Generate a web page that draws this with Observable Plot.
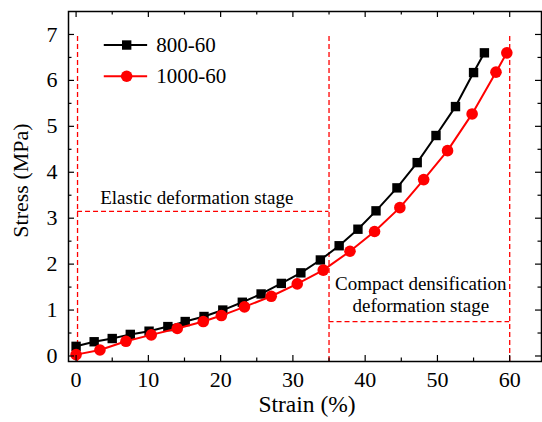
<!DOCTYPE html>
<html><head><meta charset="utf-8">
<script src="https://cdn.jsdelivr.net/npm/d3@7"></script>
<script src="https://cdn.jsdelivr.net/npm/@observablehq/plot@0.6"></script>
<style>
html,body{margin:0;padding:0;background:#fff;}
#chart{width:542px;height:422px;}
#chart svg, #chart svg text{font-family:"Liberation Serif","Times New Roman",serif !important;}
</style></head><body><div id="chart"></div>
<script>
// ---- data ----
const seriesNames = ["800-60", "1000-60"];
const strain800 = [0, 2.5, 5.0, 7.5, 10.1, 12.7, 15.1, 17.7, 20.3, 23.0, 25.6, 28.4, 31.1, 33.8, 36.4, 39.0, 41.5, 44.4, 47.2, 49.8, 52.5, 55.0, 56.5];
const stress800 = [0.21, 0.31, 0.38, 0.47, 0.54, 0.64, 0.75, 0.86, 1.00, 1.17, 1.35, 1.58, 1.81, 2.09, 2.40, 2.76, 3.16, 3.66, 4.21, 4.80, 5.43, 6.17, 6.60];
const strain1000 = [0, 3.3, 6.9, 10.4, 14.0, 17.6, 20.1, 23.3, 27.0, 30.6, 34.2, 37.9, 41.3, 44.8, 48.1, 51.4, 54.8, 58.1, 59.6];
const stress1000 = [0.03, 0.13, 0.32, 0.46, 0.60, 0.75, 0.88, 1.07, 1.30, 1.57, 1.87, 2.28, 2.71, 3.23, 3.84, 4.47, 5.27, 6.18, 6.60];
const xTicks = [0, 10, 20, 30, 40, 50, 60];
const xMinor = [5, 15, 25, 35, 45, 55];
const yTicks = [0, 1, 2, 3, 4, 5, 6, 7];
const yMinor = [0.5, 1.5, 2.5, 3.5, 4.5, 5.5, 6.5];
const xLabel = "Strain (%)";
const yLabel = "Stress (MPa)";
const stage1Label = ["Elastic deformation stage"];
const stage2Label = ["Compact densification", "deformation stage"];
// stage boundaries (strain %) and stress levels of the annotation boxes
const stageX = [0.2, 35, 60];
const stageTop = 7.0;
const stage1Y = 3.15;
const stage2Y = 0.75;

// ---- build tables ----
const s800 = strain800.map((x, i) => ({x, y: stress800[i], s: seriesNames[0]}));
const s1000 = strain1000.map((x, i) => ({x, y: stress1000[i], s: seriesNames[1]}));

const FONT = "Liberation Serif";
const XD = [-1.05, 64.4], YD = [-0.12, 7.5];
const RED = "#ff0000";
const dash = "5,3";
const MAJ = 6, MIN = 3.5;

function ticksBottomTop(vals, len) {
  return [
    Plot.ruleX(vals, {x: d => d, y1: YD[0], y2: YD[0], insetTop: -len, stroke: "black", strokeWidth: 1.2}),
    Plot.ruleX(vals, {x: d => d, y1: YD[1], y2: YD[1], insetBottom: -len, stroke: "black", strokeWidth: 1.2})
  ];
}
function ticksLeftRight(vals, len) {
  return [
    Plot.ruleY(vals, {y: d => d, x1: XD[0], x2: XD[0], insetRight: -len, stroke: "black", strokeWidth: 1.2}),
    Plot.ruleY(vals, {y: d => d, x1: XD[1], x2: XD[1], insetLeft: -len, stroke: "black", strokeWidth: 1.2})
  ];
}

const legendRows = seriesNames.map((s, i) => ({s, y: [6.77, 6.09][i]}));

const chart = Plot.plot({
  width: 542,
  height: 422,
  marginLeft: 68,
  marginRight: 1,
  marginTop: 11,
  marginBottom: 61,
  style: {fontFamily: FONT, background: "white", color: "black"},
  x: {domain: XD},
  y: {domain: YD},
  marks: [
    // annotation dashed boxes
    Plot.ruleX([stageX[0], stageX[1], stageX[2]], {x: d => d, y1: YD[0], y2: stageTop, stroke: RED, strokeWidth: 1.3, strokeDasharray: dash}),
    Plot.ruleY([stage1Y], {y: d => d, x1: stageX[0], x2: stageX[1], stroke: RED, strokeWidth: 1.3, strokeDasharray: dash}),
    Plot.ruleY([stage2Y], {y: d => d, x1: stageX[1], x2: stageX[2], stroke: RED, strokeWidth: 1.3, strokeDasharray: dash}),
    Plot.text(stage1Label, {x: (stageX[0] + stageX[1]) / 2 - 0.9, y: stage1Y + 0.3, text: d => d, fontSize: 19, fontFamily: FONT, fill: "black"}),
    Plot.text(stage2Label, {x: (stageX[1] + stageX[2]) / 2 + 0.2, y: (d, i) => [1.58, 1.10][i], text: d => d, fontSize: 19, fontFamily: FONT, fill: "black"}),
    // data
    Plot.line(s800, {x: "x", y: "y", stroke: "black", strokeWidth: 2}),
    Plot.dot(s800, {x: "x", y: "y", symbol: "square", r: 5.3, fill: "black", stroke: "none"}),
    Plot.line(s1000, {x: "x", y: "y", stroke: RED, strokeWidth: 2}),
    Plot.dot(s1000, {x: "x", y: "y", symbol: "circle", r: 5.8, fill: RED, stroke: "none"}),
    // legend
    Plot.ruleY(legendRows, {y: "y", x1: 3.9, x2: 9.9, stroke: (d, i) => ["black", RED][i], strokeWidth: 2}),
    Plot.dot(legendRows.slice(0, 1), {x: 7.0, y: "y", symbol: "square", r: 5.3, fill: "black", stroke: "none"}),
    Plot.dot(legendRows.slice(1), {x: 7.0, y: "y", symbol: "circle", r: 5.8, fill: RED, stroke: "none"}),
    Plot.text(legendRows, {x: 11.1, y: "y", text: "s", textAnchor: "start", fontSize: 21, fontFamily: FONT, fill: "black"}),
    // frame & ticks
    Plot.frame({stroke: "black", strokeWidth: 1.5}),
    ...ticksBottomTop(xTicks, MAJ),
    ...ticksBottomTop(xMinor, MIN),
    ...ticksLeftRight(yTicks, MAJ),
    ...ticksLeftRight(yMinor, MIN),
    Plot.axisX(xTicks, {anchor: "bottom", tickSize: 0, tickPadding: 10, fontSize: 22, fontFamily: FONT, label: null, tickFormat: d => String(d)}),
    Plot.axisY(yTicks, {anchor: "left", tickSize: 0, tickPadding: 11, fontSize: 22, fontFamily: FONT, label: null, tickFormat: d => String(d)}),
    Plot.text([xLabel], {frameAnchor: "bottom", dy: 43, dx: 2, text: d => d, fontSize: 23.5, fontFamily: FONT, textAnchor: "middle", lineAnchor: "middle", fill: "black"}),
    Plot.text([yLabel], {frameAnchor: "left", dx: -48, dy: -6, rotate: -90, text: d => d, fontSize: 22, fontFamily: FONT, textAnchor: "middle", lineAnchor: "middle", fill: "black"})
  ]
});
document.getElementById("chart").appendChild(chart);
</script>
</body></html>
